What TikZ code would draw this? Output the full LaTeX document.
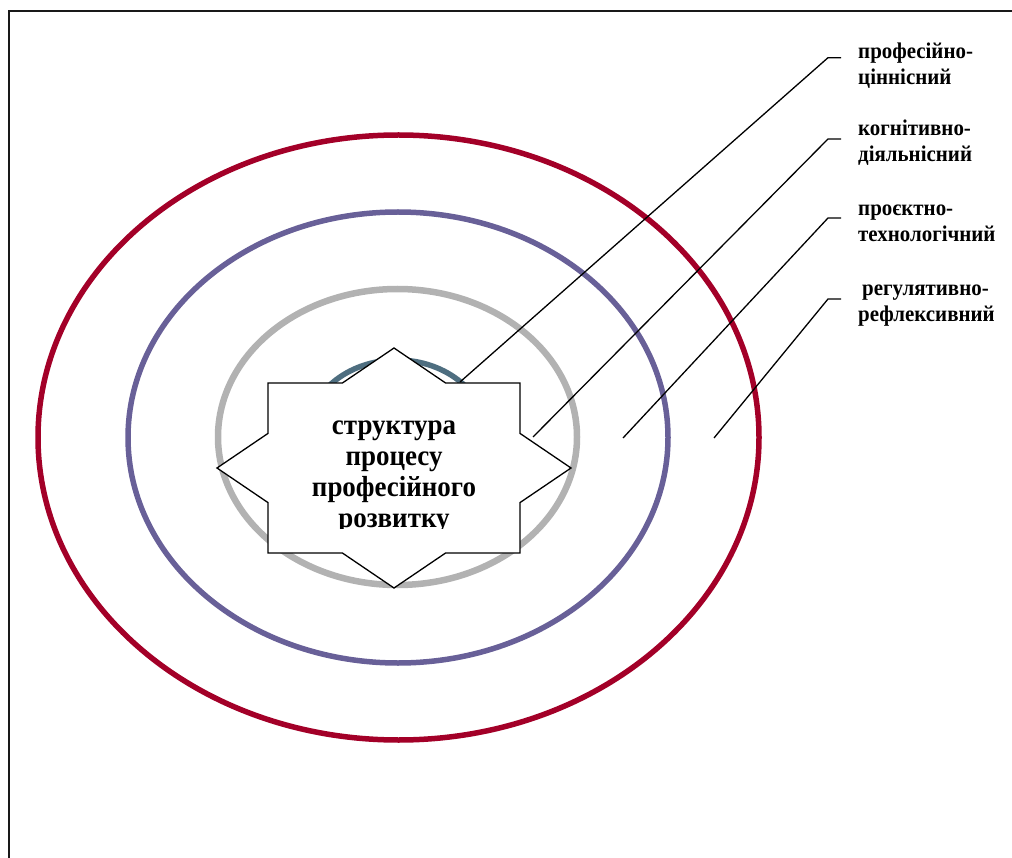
\documentclass[tikz,border=0pt]{standalone}
\usepackage{fontspec}
\setmainfont{Liberation Serif}
\newfontfamily\lblfont[FakeStretch=0.93]{Liberation Serif}
\newfontfamily\ctrfont[FakeStretch=0.93]{Liberation Serif}
\definecolor{ringred}{RGB}{163,0,40}
\definecolor{ringpurple}{RGB}{104,96,152}
\definecolor{ringgray}{RGB}{178,178,178}
\definecolor{ringteal}{RGB}{78,110,128}
\begin{document}
\begin{tikzpicture}[x=1pt,y=-1pt,
  ring/.style={line width=5.5pt},
  lead/.style={draw=black, line width=1.3pt},
  lbl/.style={font=\lblfont\bfseries\fontsize{22.5}{26}\selectfont, align=left, inner sep=0pt, anchor=base west},
  centretext/.style={font=\ctrfont\bfseries\fontsize{29}{30.7}\selectfont, align=center, inner sep=0pt}
]
\useasboundingbox (0,0) rectangle (1012,858);
% frame
\draw[line width=2pt, draw=black!90] (9,858) -- (9,11) -- (1012,11);
% rings
\draw[ring, draw=ringred] (398.5,437.5) ellipse [x radius=360.5pt, y radius=302.5pt];
\draw[ring, draw=ringpurple] (398,437.5) ellipse [x radius=270pt, y radius=225.5pt];
\draw[ring, line width=6.5pt, draw=ringgray] (397.5,437) ellipse [x radius=179.5pt, y radius=148pt];
\draw[ring, draw=ringteal] (397,437) ellipse [x radius=91pt, y radius=77pt];
% star
\draw[fill=white, draw=black, line width=1.3pt]
  (394,348) -- (445.6,383) -- (520,383) -- (520,433.4) -- (571,468) -- (520,502.6)
  -- (520,553) -- (445.6,553) -- (394,588) -- (342.4,553) -- (268,553) -- (268,502.6)
  -- (217,468) -- (268,433.4) -- (268,383) -- (342.4,383) -- cycle;
\begin{scope}
  \clip (268,383) rectangle (520,528);
  \node[centretext, anchor=base] (centre) at (394,527)
    {структура\\процесу\\професійного\\розвитку};
\end{scope}
% labels (base anchor = baseline of the last line)
\node[lbl] (l1) at (858,85) {професійно-\\ціннісний};
\node[lbl] (l2) at (858,161.7) {когнітивно-\\діяльнісний};
\node[lbl] (l3) at (858,241.7) {проєктно-\\технологічний};
\node[lbl] (l4) at (858,322) {\hspace{4pt}регулятивно-\\рефлексивний};
% leader coordinates
\coordinate (h1) at (841,57.7); \coordinate (b1) at (828,57.7); \coordinate (e1) at (460,382);
\coordinate (h2) at (841,139);  \coordinate (b2) at (828,139);  \coordinate (e2) at (533,437);
\coordinate (h3) at (841,218);  \coordinate (b3) at (828,218);  \coordinate (e3) at (623,438);
\coordinate (h4) at (841,299);  \coordinate (b4) at (828,299);  \coordinate (e4) at (714,438);
\draw[lead] (h1) -- (b1) -- (e1);
\draw[lead] (h2) -- (b2) -- (e2);
\draw[lead] (h3) -- (b3) -- (e3);
\draw[lead] (h4) -- (b4) -- (e4);
\end{tikzpicture}
\end{document}
